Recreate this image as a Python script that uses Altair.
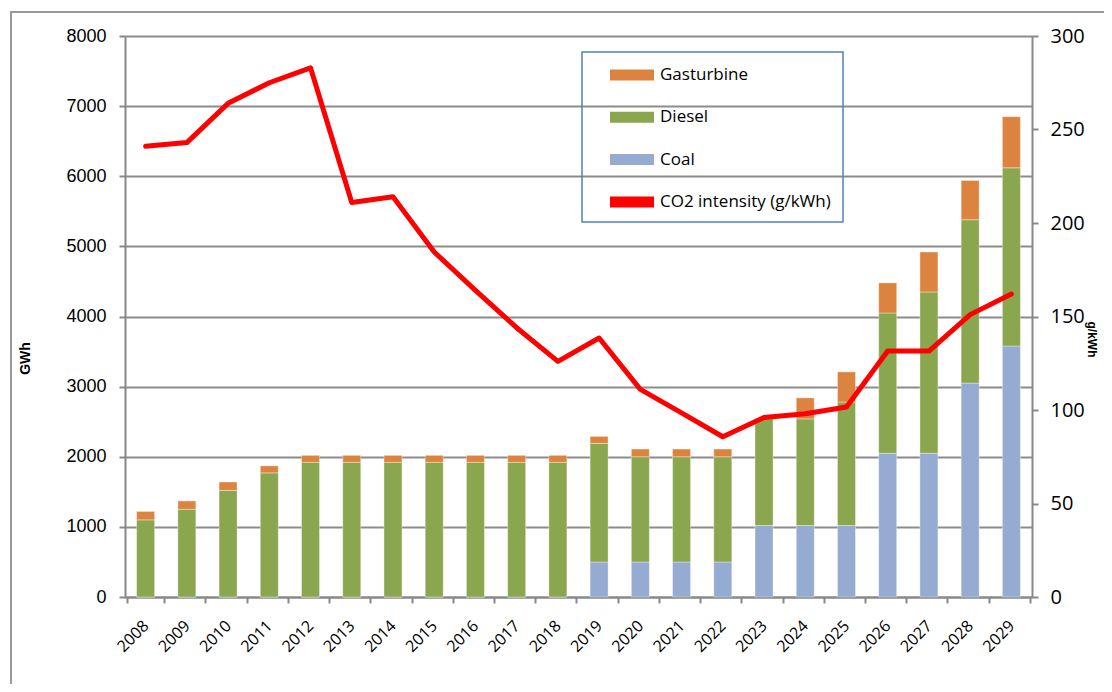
import altair as alt
import pandas as pd

years = [str(y) for y in range(2008, 2030)]
coal = [0, 0, 0, 0, 0, 0, 0, 0, 0, 0, 0, 500, 500, 500, 500, 1020, 1020, 1020, 2050, 2050, 3050, 3580]
diesel = [1100, 1250, 1520, 1770, 1920, 1920, 1920, 1920, 1920, 1920, 1920, 1690, 1500, 1500, 1500, 1530, 1520, 1760, 2000, 2300, 2330, 2540]
gasturbine = [120, 120, 120, 100, 100, 100, 100, 100, 100, 100, 100, 100, 110, 110, 110, 0, 300, 430, 430, 570, 560, 730]
co2_intensity = [241, 243, 264, 275, 283, 211, 214, 184.5, 164, 144, 126, 138.5, 111, 98.5, 85.7, 96, 98, 101.6, 131.5, 131.5, 151, 162]

series_names = ["Gasturbine", "Diesel", "Coal", "CO2 intensity (g/kWh)"]
series_colors = ["#dc843f", "#8aa64e", "#95abd2", "#ff0000"]
stack_order = {"Coal": 0, "Diesel": 1, "Gasturbine": 2}

rows = []
for name, vals in (("Coal", coal), ("Diesel", diesel), ("Gasturbine", gasturbine)):
    for yr, v in zip(years, vals):
        rows.append({"year": yr, "series": name, "value": v, "order": stack_order[name]})
bars_df = pd.DataFrame(rows)
line_df = pd.DataFrame({"year": years, "co2": co2_intensity, "series": series_names[3]})

FONT_AX = "Open Sans"
W, H = 907, 561

color = alt.Color(
    "series:N",
    scale=alt.Scale(domain=series_names, range=series_colors),
    legend=alt.Legend(
        title=None,
        orient="none",
        legendX=457,
        legendY=16,
        padding=12,
        symbolType="M-2,-0.5H2V0.5H-2Z",
        symbolSize=484,
        symbolStrokeWidth=0,
        symbolOpacity=1,
        symbolOffset=27,
        labelOffset=17,
        rowPadding=23.3,
        labelLimit=300,
        labelFont=FONT_AX,
        labelFontSize=17,
        labelColor="#000000",
        strokeColor="#4f81bd",
    ),
)

xenc = alt.X(
    "year:N",
    sort=years,
    scale=alt.Scale(domain=years),
    axis=alt.Axis(
        title=None,
        labelAngle=-45,
        labelAlign="right",
        labelBaseline="middle",
        labelFont=FONT_AX,
        labelFontSize=16,
        labelColor="#000000",
        labelPadding=20,
        tickBand="extent",
        tickSize=6,
        tickColor="#888888",
        tickWidth=2,
        domainColor="#888888",
        domainWidth=2,
        grid=False,
    ),
)

bars = alt.Chart(bars_df).mark_bar(size=18, stroke="#ffffff", strokeWidth=0.6, strokeOpacity=0.6).encode(
    x=xenc,
    y=alt.Y(
        "value:Q",
        stack="zero",
        scale=alt.Scale(domain=[0, 8000], nice=False),
        axis=alt.Axis(
            title="GWh",
            titleFontWeight="bold",
            titleFontSize=14,
            titleColor="#000000",
            titleX=-93,
            titleY=322,
            values=list(range(0, 8001, 1000)),
            format="d",
            labelFont="Liberation Sans",
            labelFontSize=18,
            labelColor="#000000",
            labelPadding=13,
            tickSize=6,
            tickColor="#888888",
            tickWidth=2,
            domainColor="#888888",
            domainWidth=2,
            gridColor="#8c8c8c",
            gridWidth=2,
        ),
    ),
    color=color,
    order=alt.Order("order:Q", sort="ascending"),
)

line = alt.Chart(line_df).mark_line(strokeWidth=5, strokeJoin="round", strokeCap="round").encode(
    x=alt.X("year:N", sort=years),
    y=alt.Y(
        "co2:Q",
        scale=alt.Scale(domain=[0, 300], nice=False),
        axis=alt.Axis(
            title="g/kWh",
            orient="right",
            titleFontWeight="bold",
            titleFontSize=12,
            titleColor="#000000",
            titleX=52,
            titleY=303,
            values=list(range(0, 301, 50)),
            format="d",
            labelFont=FONT_AX,
            labelFontSize=20,
            labelColor="#000000",
            labelPadding=12,
            tickSize=6,
            tickColor="#888888",
            tickWidth=2,
            domainColor="#888888",
            domainWidth=2,
            grid=False,
        ),
    ),
    color=color,
)

border = alt.Chart(pd.DataFrame({"a": [0]})).mark_rect(fill=None, stroke="#999999", strokeWidth=2).encode(
    x=alt.value(-114), x2=alt.value(1000), y=alt.value(-24), y2=alt.value(700)
)

chart = (
    alt.layer(border, bars, line)
    .resolve_scale(y="independent", color="shared")
    .properties(
        width=W,
        height=H,
        autosize=alt.AutoSizeParams(type="none"),
        padding={"left": 117, "top": 28, "right": 72, "bottom": 87},
        background="#ffffff",
    )
    .configure_view(stroke=None)
    .configure_legend(strokeWidth=1.5)
)

chart.save("out.html", embed_options={"renderer": "svg", "actions": False})
